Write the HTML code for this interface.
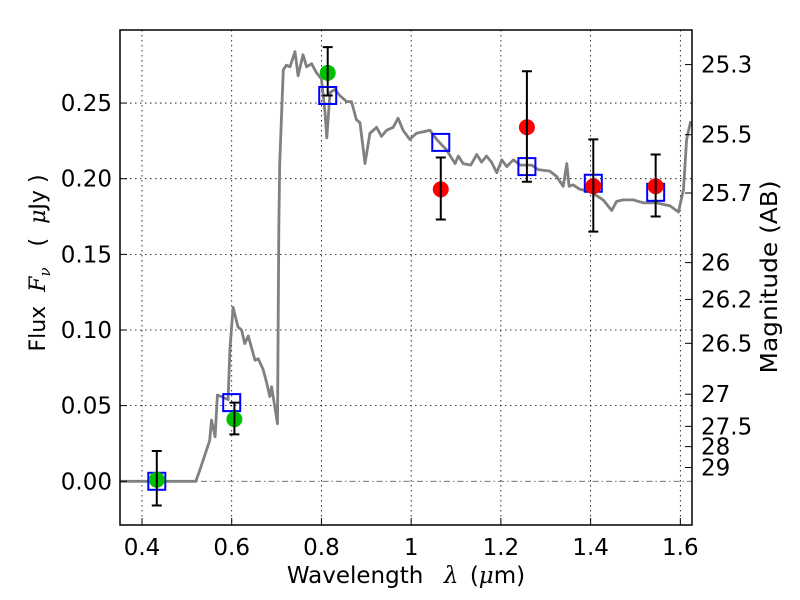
<!DOCTYPE html>
<html><head><meta charset="utf-8"><style>
html,body{margin:0;padding:0;background:#fff;}
svg{display:block;font-family:"DejaVu Sans","Liberation Sans",sans-serif;}
.m{font-family:"DejaVu Serif","Liberation Serif",serif;font-style:italic;}
</style></head><body>
<svg id="chart" width="800" height="600" viewBox="0 0 800 600" xmlns="http://www.w3.org/2000/svg">
<rect x="0" y="0" width="800" height="600" fill="#fff"/>
<g id="grid"></g>
<g id="spec"></g>
<g id="marks"></g>
<g id="axes"></g>
<text x="406" y="583" font-size="23" text-anchor="middle" xml:space="preserve">Wavelength  <tspan class="m" dx="6">λ</tspan> <tspan dx="4">(</tspan><tspan class="m">μ</tspan>m)</text>
<text transform="translate(45,263) rotate(-90)" font-size="22" text-anchor="middle" xml:space="preserve">Flux  <tspan class="m">F</tspan><tspan class="m" font-size="15" dy="5">ν</tspan><tspan dy="-5">   (  </tspan><tspan class="m">μ</tspan>Jy )</text>
<text transform="translate(777,277) rotate(-90)" font-size="23" text-anchor="middle" textLength="193" lengthAdjust="spacingAndGlyphs">Magnitude (AB)</text>
</svg>
<script>
const specLam=[0.35,0.52,0.529,0.551,0.555,0.563,0.568,0.577,0.592,0.596,0.603,0.614,0.622,0.629,0.637,0.652,0.659,0.670,0.678,0.685,0.689,0.702,0.705,0.707,0.715,0.722,0.730,0.741,0.748,0.759,0.767,0.778,0.789,0.800,0.808,0.812,0.819,0.830,0.841,0.856,0.867,0.878,0.886,0.897,0.908,0.923,0.934,0.945,0.960,0.971,0.982,0.997,1.012,1.042,1.057,1.079,1.098,1.105,1.116,1.133,1.146,1.157,1.168,1.179,1.191,1.202,1.213,1.228,1.243,1.269,1.283,1.309,1.324,1.339,1.347,1.352,1.361,1.376,1.399,1.428,1.447,1.458,1.473,1.495,1.518,1.547,1.577,1.596,1.607,1.614,1.623];
const specFlux=[0,0,0.0075,0.027,0.0405,0.0295,0.057,0.056,0.054,0.087,0.115,0.102,0.100,0.091,0.096,0.080,0.081,0.074,0.065,0.056,0.0625,0.038,0.166,0.210,0.272,0.275,0.274,0.284,0.268,0.282,0.274,0.276,0.270,0.266,0.244,0.227,0.257,0.259,0.255,0.251,0.251,0.239,0.237,0.210,0.230,0.234,0.228,0.232,0.234,0.240,0.232,0.226,0.230,0.232,0.226,0.219,0.210,0.215,0.210,0.209,0.216,0.211,0.215,0.211,0.204,0.2125,0.208,0.2125,0.209,0.209,0.206,0.205,0.2015,0.195,0.210,0.195,0.196,0.193,0.1915,0.186,0.179,0.185,0.186,0.186,0.184,0.184,0.182,0.178,0.193,0.226,0.238];
const greenLam=[0.433,0.606,0.814];
const greenFlux=[0.001,0.041,0.270];
const greenErrLo=[0.017,0.010,0.015];
const greenErrHi=[0.019,0.011,0.017];
const redLam=[1.066,1.258,1.406,1.545];
const redFlux=[0.193,0.234,0.195,0.195];
const redErrLo=[0.020,0.036,0.030,0.020];
const redErrHi=[0.021,0.037,0.031,0.021];
const modelLam=[0.433,0.600,0.814,1.066,1.258,1.406,1.545];
const modelFlux=[0.0,0.052,0.255,0.224,0.208,0.197,0.191];
const xTicks=[0.4,0.6,0.8,1.0,1.2,1.4,1.6];
const xTickLabels=["0.4","0.6","0.8","1","1.2","1.4","1.6"];
const yTicks=[0,0.05,0.10,0.15,0.20,0.25];
const yTickLabels=["0.00","0.05","0.10","0.15","0.20","0.25"];
const magTicks=[25.3,25.5,25.7,26,26.2,26.5,27,27.5,28,29];
const magTickLabels=["25.3","25.5","25.7","26","26.2","26.5","27","27.5","28","29"];

const L=120,R=692,T=30,B=525,X0=0.351,X1=1.626,Y0=-0.0289,Y1=0.2983;
const sx=v=>L+(v-X0)/(X1-X0)*(R-L);
const sy=v=>B-(v-Y0)/(Y1-Y0)*(B-T);
const NS="http://www.w3.org/2000/svg";
function mk(tag,attrs,parent){const e=document.createElementNS(NS,tag);for(const k in attrs)e.setAttribute(k,attrs[k]);parent.appendChild(e);return e;}
const grid=document.getElementById('grid'),spec=document.getElementById('spec'),marks=document.getElementById('marks'),axes=document.getElementById('axes');

xTicks.forEach((t,i)=>{
  const x=sx(t);
  const g=mk('line',{x1:x,x2:x,y1:T,y2:B,stroke:'#000','stroke-width':0.8,'stroke-dasharray':'1.5,3.5'},grid);
  
  
  const tk=mk('line',{x1:x,x2:x,y1:B,y2:B-7,stroke:'#000','stroke-width':1},axes);
  
  
  const tx=mk('text',{x:x,y:B+30,'font-size':23,'text-anchor':'middle'},axes);
  tx.textContent=xTickLabels[i];
  
  
});
yTicks.forEach((t,i)=>{
  const y=sy(t);
  if(t!==0){
    const g=mk('line',{x1:L,x2:R,y1:y,y2:y,stroke:'#000','stroke-width':0.8,'stroke-dasharray':'1.5,3.5'},grid);
    
    
  }
  const tk=mk('line',{x1:L,x2:L+7,y1:y,y2:y,stroke:'#000','stroke-width':1},axes);
  
  
  const tx=mk('text',{x:L-8,y:y+8,'font-size':23,'text-anchor':'end'},axes);
  tx.textContent=yTickLabels[i];
  
  
});
const zl=mk('line',{x1:L,x2:R,y1:sy(0),y2:sy(0),stroke:'#444','stroke-width':0.8,'stroke-dasharray':'6,3,1.5,3'},grid);



magTicks.forEach((m,i)=>{
  const y=sy(Math.pow(10,(23.9-m)/2.5));
  const tk=mk('line',{x1:R,x2:R-7,y1:y,y2:y,stroke:'#000','stroke-width':1},axes);
  
  
  const tx=mk('text',{x:R+9,y:y+8,'font-size':23},axes);
  tx.textContent=magTickLabels[i];
  
  
});

let d='';
specLam.forEach((l,i)=>{d+=(i?'L':'M')+sx(l).toFixed(1)+','+sy(specFlux[i]).toFixed(1);});
const sp=mk('path',{d:d,fill:'none',stroke:'#808080','stroke-width':2.8,'stroke-linejoin':'round'},spec);



function errbar(l,f,lo,hi){
  const x=sx(l),y1=sy(f-lo),y2=sy(f+hi);
  const e=mk('path',{d:`M${x},${y1}L${x},${y2}M${x-5},${y1}L${x+5},${y1}M${x-5},${y2}L${x+5},${y2}`,stroke:'#000','stroke-width':2,fill:'none'},marks);
  
  
}
modelLam.forEach((l,i)=>{
  const s=mk('rect',{x:sx(l)-8.5,y:sy(modelFlux[i])-8.5,width:17,height:17,fill:'none',stroke:'#0000ff','stroke-width':2},marks);
  
  
});
greenLam.forEach((l,i)=>{
  const c=mk('circle',{cx:sx(l),cy:sy(greenFlux[i]),r:8,fill:'#00bf00'},marks);
  
  
  errbar(l,greenFlux[i],greenErrLo[i],greenErrHi[i]);
});
redLam.forEach((l,i)=>{
  const c=mk('circle',{cx:sx(l),cy:sy(redFlux[i]),r:8,fill:'#ff0000'},marks);
  
  
  errbar(l,redFlux[i],redErrLo[i],redErrHi[i]);
});
const fr=mk('rect',{x:L,y:T,width:R-L,height:B-T,fill:'none',stroke:'#000','stroke-width':1.5},axes);


</script>
</body></html>
